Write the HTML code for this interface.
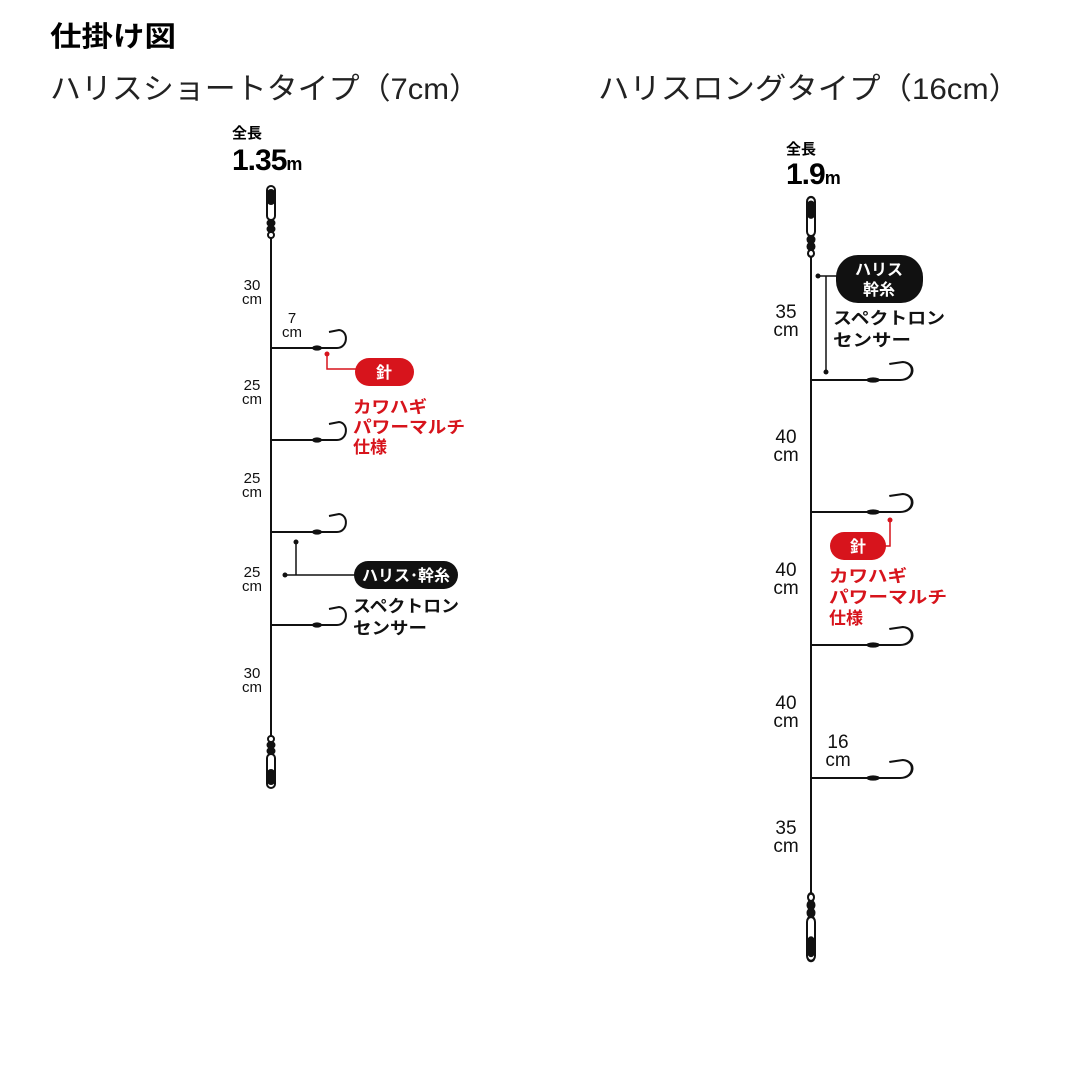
<!DOCTYPE html>
<html><head><meta charset="utf-8"><style>
html,body{margin:0;padding:0;background:#fff;}
svg{display:block}
text{font-family:"Liberation Sans","Noto Sans CJK JP",sans-serif;}
.b{font-weight:bold}
</style></head><body>
<svg width="1080" height="1080" viewBox="0 0 1080 1080" xmlns="http://www.w3.org/2000/svg">
<defs>
<g id="hook" fill="none" stroke="#111" stroke-width="2">
<path d="M0 0 H66 C77 0 78 -17 68 -18 L58 -16"/>
<ellipse cx="46" cy="0" rx="5" ry="2.6" fill="#111" stroke="none"/>
</g>
<g id="swT" fill="none" stroke="#111" stroke-width="2">
<rect x="-4" y="0" width="8" height="34" rx="4"/>
<rect x="-3" y="4" width="6" height="14" rx="3" fill="#111"/>
<ellipse cx="0" cy="37" rx="3.5" ry="3" fill="#111"/>
<ellipse cx="0" cy="43" rx="3.5" ry="3" fill="#111"/>
<circle cx="0" cy="49" r="3" fill="#fff"/>
</g>
</defs>
<text x="50" y="46" font-size="28" class="b" textLength="126" lengthAdjust="spacingAndGlyphs">仕掛け図</text>
<text x="50" y="99" font-size="30" fill="#222" textLength="430" lengthAdjust="spacingAndGlyphs">ハリスショートタイプ（7cm）</text>
<text x="598" y="99" font-size="30" fill="#222" textLength="422" lengthAdjust="spacingAndGlyphs">ハリスロングタイプ（16cm）</text>

<!-- LEFT -->
<text x="232" y="138" font-size="15" class="b">全長</text>
<text x="232" y="170" font-size="30" class="b" letter-spacing="-1">1.35<tspan font-size="18">m</tspan></text>
<line x1="271" y1="235" x2="271" y2="745" stroke="#111" stroke-width="2"/>
<use href="#swT" x="271" y="186"/>
<use href="#swT" transform="translate(271 788) scale(1 -1)"/>
<use href="#hook" x="271" y="348"/>
<use href="#hook" x="271" y="440"/>
<use href="#hook" x="271" y="532"/>
<use href="#hook" x="271" y="625"/>
<g font-size="15" text-anchor="middle" fill="#111">
<text x="252" y="290">30</text><text x="252" y="304">cm</text>
<text x="292" y="323">7</text><text x="292" y="337">cm</text>
<text x="252" y="390">25</text><text x="252" y="404">cm</text>
<text x="252" y="483">25</text><text x="252" y="497">cm</text>
<text x="252" y="577">25</text><text x="252" y="591">cm</text>
<text x="252" y="678">30</text><text x="252" y="692">cm</text>
</g>
<path d="M327 354 V369 H356" fill="none" stroke="#d7141c" stroke-width="1.5"/>
<circle cx="327" cy="354" r="2.5" fill="#d7141c"/>
<rect x="355" y="358" width="59" height="28" rx="14" fill="#d7141c"/>
<text x="384" y="378" font-size="16" fill="#fff" text-anchor="middle" class="b">針</text>
<g font-size="17" class="b" fill="#d7141c">
<text x="353" y="413" textLength="74" lengthAdjust="spacingAndGlyphs">カワハギ</text><text x="353" y="433" textLength="112" lengthAdjust="spacingAndGlyphs">パワーマルチ</text><text x="353" y="453">仕様</text>
</g>
<path d="M285 575 H356 M296 542 V575" fill="none" stroke="#111" stroke-width="1.5"/>
<circle cx="285" cy="575" r="2.5" fill="#111"/><circle cx="296" cy="542" r="2.5" fill="#111"/>
<rect x="354" y="561" width="104" height="28" rx="14" fill="#111"/>
<text x="406" y="581" font-size="16" fill="#fff" text-anchor="middle" class="b">ハリス･幹糸</text>
<g font-size="17" class="b" fill="#111">
<text x="353" y="612" textLength="106" lengthAdjust="spacingAndGlyphs">スペクトロン</text><text x="353" y="634" textLength="74" lengthAdjust="spacingAndGlyphs">センサー</text>
</g>

<!-- RIGHT -->
<text x="786" y="154" font-size="15" class="b">全長</text>
<text x="786" y="184" font-size="30" class="b" letter-spacing="-1">1.9<tspan font-size="18">m</tspan></text>
<line x1="811" y1="250" x2="811" y2="900" stroke="#111" stroke-width="2"/>
<use href="#swT" transform="translate(811 197) scale(1 1.15)"/>
<use href="#swT" transform="translate(811 961) scale(1 -1.3)"/>
<use href="#hook" transform="translate(811 380) scale(1.35 1)"/>
<use href="#hook" transform="translate(811 512) scale(1.35 1)"/>
<use href="#hook" transform="translate(811 645) scale(1.35 1)"/>
<use href="#hook" transform="translate(811 778) scale(1.35 1)"/>
<g font-size="19" text-anchor="middle" fill="#111">
<text x="786" y="318">35</text><text x="786" y="336">cm</text>
<text x="786" y="443">40</text><text x="786" y="461">cm</text>
<text x="786" y="576">40</text><text x="786" y="594">cm</text>
<text x="786" y="709">40</text><text x="786" y="727">cm</text>
<text x="786" y="834">35</text><text x="786" y="852">cm</text>
<text x="838" y="748">16</text><text x="838" y="766">cm</text>
</g>
<path d="M818 276 H838 M826 276 V372" fill="none" stroke="#111" stroke-width="1.5"/>
<circle cx="818" cy="276" r="2.5" fill="#111"/><circle cx="826" cy="372" r="2.5" fill="#111"/>
<rect x="836" y="255" width="87" height="48" rx="22" fill="#111"/>
<text x="879" y="275" font-size="16" fill="#fff" text-anchor="middle" class="b">ハリス</text>
<text x="879" y="295" font-size="16" fill="#fff" text-anchor="middle" class="b">幹糸</text>
<g font-size="17" class="b" fill="#111">
<text x="833" y="324" textLength="112" lengthAdjust="spacingAndGlyphs">スペクトロン</text><text x="833" y="346" textLength="78" lengthAdjust="spacingAndGlyphs">センサー</text>
</g>
<path d="M890 520 V546 H885" fill="none" stroke="#d7141c" stroke-width="1.5"/>
<circle cx="890" cy="520" r="2.5" fill="#d7141c"/>
<rect x="830" y="532" width="56" height="28" rx="14" fill="#d7141c"/>
<text x="858" y="552" font-size="16" fill="#fff" text-anchor="middle" class="b">針</text>
<g font-size="17" class="b" fill="#d7141c">
<text x="829" y="582" textLength="78" lengthAdjust="spacingAndGlyphs">カワハギ</text><text x="829" y="603" textLength="118" lengthAdjust="spacingAndGlyphs">パワーマルチ</text><text x="829" y="624">仕様</text>
</g>
</svg>
</body></html>
